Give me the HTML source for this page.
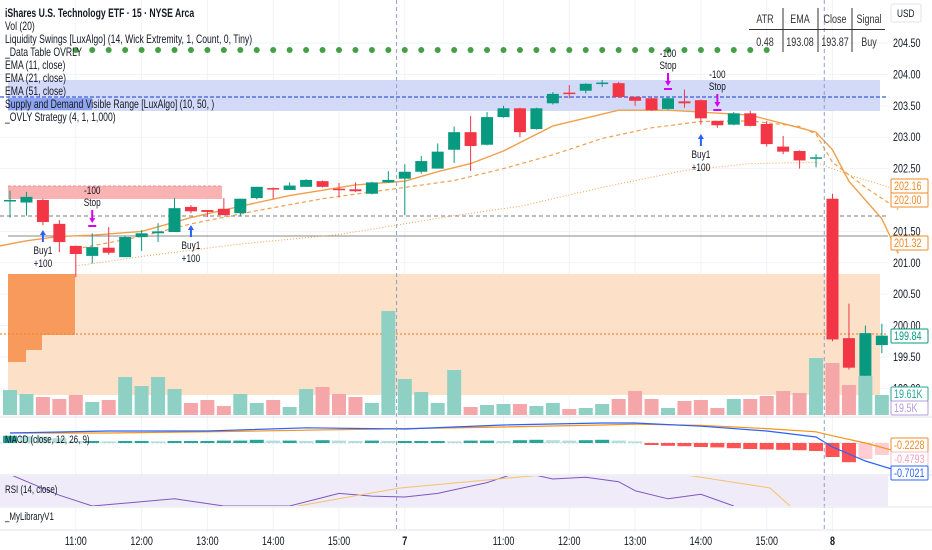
<!DOCTYPE html>
<html><head><meta charset="utf-8">
<style>
body{margin:0;background:#fff;font-family:"Liberation Sans",sans-serif;}
#wrap{position:relative;width:932px;height:550px;overflow:hidden;background:#fff}
svg{position:absolute;left:0;top:0}
.leg{position:absolute;left:5px;font-size:12px;color:#131722;white-space:nowrap;transform:scaleX(0.72);transform-origin:0 0}
</style></head>
<body>
<div id="wrap">
<svg id="c" width="932" height="550"></svg>
<div class="leg" style="top:6px;font-weight:bold">iShares U.S. Technology ETF · 15 · NYSE Arca</div>
<div class="leg" style="top:19px">Vol (20)</div>
<div class="leg" style="top:32px">Liquidity Swings [LuxAlgo] (14, Wick Extremity, 1, Count, 0, Tiny)</div>
<div class="leg" style="top:45px">_Data Table OVRLY</div>
<div class="leg" style="top:58px">EMA (11, close)</div>
<div class="leg" style="top:71px">EMA (21, close)</div>
<div class="leg" style="top:84px">EMA (51, close)</div>
<div class="leg" style="top:97px">Supply and Demand Visible Range [LuxAlgo] (10, 50, )</div>
<div class="leg" style="top:110px">_OVLY Strategy (4, 1, 1,000)</div>
<div class="leg" style="top:434px;font-size:11px">MACD (close, 12, 26, 9)</div>
<div class="leg" style="top:484px;font-size:11px">RSI (14, close)</div>
<div class="leg" style="top:511px;font-size:11px">_MyLibraryV1</div>
</div>
<script>
const opens=[201.99,201.96,202.0,201.62,201.27,201.11,201.24,201.09,201.41,201.47,201.49,201.89,201.84,201.86,201.79,202.03,202.19,202.16,202.21,202.30,202.18,202.17,202.1,202.28,202.34,202.45,202.5,202.8,203.08,202.88,203.32,203.46,203.13,203.54,203.71,203.74,203.85,203.86,203.64,203.62,203.45,203.57,203.59,203.26,203.2,203.38,203.21,202.85,202.78,202.66,202.02,199.8,199.2,199.69];
const closes=[202.0,202.05,201.65,201.33,201.14,201.25,201.16,201.41,201.47,201.50,201.87,201.82,201.81,201.76,202.02,202.21,202.17,202.23,202.32,202.21,202.17,202.14,202.28,202.32,202.45,202.62,202.77,203.08,202.86,203.32,203.46,203.08,203.46,203.69,203.7,203.85,203.87,203.64,203.58,203.43,203.62,203.54,203.3,203.19,203.38,203.18,202.89,202.77,202.63,202.68,199.78,199.33,199.88,199.84];
const highs=[202.15,202.13,202.02,201.68,201.27,201.47,201.57,201.43,201.52,201.63,202.03,201.92,201.84,202.03,202.02,202.21,202.2,202.28,202.33,202.31,202.27,202.28,202.29,202.46,202.57,202.7,202.9,203.17,203.34,203.4,203.5,203.47,203.47,203.72,203.83,203.86,203.91,203.88,203.65,203.63,203.63,203.76,203.6,203.26,203.4,203.42,203.26,203.02,202.79,202.73,202.1,200.35,200.0,200.03];
const lows=[201.72,201.75,201.6,201.17,200.77,200.99,201.13,201.09,201.19,201.33,201.49,201.79,201.73,201.76,201.74,202.01,202.02,202.16,202.21,202.2,202.04,202.13,202.09,202.27,201.76,202.42,202.5,202.59,202.46,202.87,203.31,203.0,203.12,203.52,203.62,203.7,203.8,203.63,203.5,203.42,203.44,203.47,203.2,203.15,203.19,203.17,202.85,202.73,202.5,202.52,199.75,199.3,199.2,199.56];
const volumes=[25,21,18,16,20,13,15,38,29,38,26,12,15,9,21,12,15,8,26,28,21,18,12,104,36,23,12,45,8,10,11,11,9,12,6,7,11,16,24,16,7,14,15,7,16,16,19,24,22,57,52,30,39,20];
const emaFastIdx=[-1,1,3,5,8,11,14,17,21,24,26,28,30,33,37,40,42,45,48,49,50,51,53,54];
const emaFast=[201.25,201.35,201.42,201.44,201.50,201.72,201.90,202.07,202.24,202.3,202.45,202.58,202.78,203.18,203.43,203.43,203.4,203.35,203.15,203.08,202.8,202.3,201.7,201.15];
const emaMidIdx=[4,8,11,15,19,24,27,30,33,36,39,42,45,48,49,50,52,54];
const emaMid=[201.22,201.42,201.62,201.83,202.02,202.2,202.31,202.5,202.72,202.98,203.15,203.25,203.26,203.17,203.05,202.6,202.2,201.85];
const emaSlowIdx=[4,8,14,20,27,31,36,41,45,49,51,54];
const emaSlow=[200.95,201.1,201.3,201.45,201.75,201.9,202.2,202.47,202.58,202.6,202.4,202.16];
const macdIdx=[0,6,12,18,24,30,36,38,42,46,49,50,52,54];
const macdLine=[0.25,0.3,0.3,0.38,0.35,0.45,0.5,0.5,0.42,0.3,0.15,-0.1,-0.45,-0.70];
const signalLine=[0.25,0.25,0.28,0.32,0.36,0.4,0.45,0.47,0.44,0.36,0.28,0.18,0.0,-0.22];
const macdHist=[0.18,0.17,0.16,0.12,0.05,0.05,0.04,0.05,0.05,0.04,0.05,0.05,0.05,0.06,0.06,0.08,0.06,0.06,0.05,0.07,0.06,0.05,0.06,0.05,0.05,0.05,0.05,0.04,0.06,0.06,0.05,0.07,0.08,0.07,0.06,0.07,0.08,0.06,0.04,-0.05,-0.07,-0.08,-0.1,-0.11,-0.13,-0.15,-0.16,-0.17,-0.18,-0.2,-0.35,-0.48,-0.4,-0.3];
const rsiIdx=[0,3,5,10,13,17,20,22,24,26,29,31,33,35,37,38,40,42,44];
const rsiVals=[65,42,30,38,30,30,44,41,40,44,56,68,60,62,57,47,38,43,30];
const priceTicks=[204.5,204.0,203.5,203.0,202.5,201.5,201.0,200.5,200.0,199.5,199.0];
const timeLabels=["11:00","12:00","13:00","14:00","15:00","7","11:00","12:00","13:00","14:00","15:00","8"];
const timeIdx=[4,8,12,16,20,24,30,34,38,42,46,50];

const NS="http://www.w3.org/2000/svg";
const svg=document.getElementById('c');
const xB=i=>10+i*16.45;
const yP=p=>43+(204.5-p)*62.8;
const yV=v=>415-v*1.0;
const yM=m=>443-m*40;
const yR=r=>506-(r-30)*0.9;
function el(t,a,parent){const e=document.createElementNS(NS,t);for(const k in a)e.setAttribute(k,a[k]);(parent||svg).appendChild(e);return e;}
function txt(x,y,s,a){const e=el('text',Object.assign({x:0,y:0,transform:`translate(${x},${y}) scale(0.75,1)`,'font-size':12,'font-family':'Liberation Sans, sans-serif',fill:'#131722'},a||{}));e.textContent=s;return e;}

timeIdx.forEach(i=>{const g=el('line',{x1:xB(i),x2:xB(i),y1:0,y2:532,stroke:'#f0f3fa'});

});
priceTicks.forEach(p=>{const g=el('line',{x1:0,x2:888,y1:yP(p),y2:yP(p),stroke:'#f0f3fa'});

});

let z=el('rect',{x:8,y:274,width:872,height:121,fill:'#fde0c8'});


z=el('path',{d:'M8 274H75V335H42V350H26V362H8Z',fill:'#f89a5c'});


z=el('rect',{x:8,y:80,width:872,height:31,fill:'#d3daf8'});


z=el('rect',{x:8,y:98,width:84,height:12,fill:'#8fa4ee'});


z=el('line',{x1:0,x2:888,y1:97,y2:97,stroke:'#3b5bdb','stroke-dasharray':'4 2','stroke-width':1.2});


z=el('rect',{x:8,y:186,width:214,height:13,fill:'#f9b3b3'});


z=el('line',{x1:8,x2:222,y1:186,y2:186,stroke:'#f28b8b','stroke-dasharray':'3 2'});


z=el('line',{x1:0,x2:888,y1:216,y2:216,stroke:'#787b86','stroke-dasharray':'4 3'});


z=el('line',{x1:8,x2:888,y1:236,y2:236,stroke:'#888'});


z=el('line',{x1:0,x2:888,y1:334,y2:334,stroke:'#f08a3c','stroke-dasharray':'2 2','stroke-width':1.2});



z=el('rect',{x:0,y:476,width:888,height:30,fill:'#efebf8'});



for(let i=4;i<=46;i++){const d=el('circle',{cx:xB(i),cy:50,r:3,fill:'#43a047'});

}

volumes.forEach((v,i)=>{const up=closes[i]>=opens[i];const r=el('rect',{x:xB(i)-7,y:yV(v),width:14,height:415-yV(v),fill:up?'#8fd0c5':'#f5a6a9'});

});

function line(idx,vals,st,name){const d=idx.map((i,k)=>(k?'L':'M')+xB(i).toFixed(1)+' '+yP(vals[k]).toFixed(1)).join('');const p=el('path',Object.assign({d:d,fill:'none',stroke:'#f0a04b'},st));

}
line(emaSlowIdx,emaSlow,{'stroke-dasharray':'1 2','stroke-width':1},'ema-51-line');
line(emaMidIdx,emaMid,{'stroke-dasharray':'4 3','stroke-width':1.2},'ema-21-line');
line(emaFastIdx,emaFast,{'stroke-width':1.4},'ema-11-line');

opens.forEach((o,i)=>{const c=closes[i],up=c>=o,col=up?'#089981':'#f23645';const x=xB(i);
const w=el('line',{x1:x,x2:x,y1:yP(highs[i]),y2:yP(lows[i]),stroke:col});


const t=Math.min(yP(o),yP(c)),h=Math.max(1.5,Math.abs(yP(o)-yP(c)));
const b=el('rect',{x:x-6,y:t,width:12,height:h,fill:col});

});

const mz=el('line',{x1:0,x2:888,y1:yM(0),y2:yM(0),stroke:'#d1d4dc','stroke-dasharray':'2 2'});


macdHist.forEach((h,i)=>{const prev=i?macdHist[i-1]:h;let col;if(h>=0)col=h>=prev?'#26a69a':'#b2dfdb';else col=h<=prev?'#ff5252':'#ffcdd2';
const r=el('rect',{x:xB(i)-7,y:Math.min(yM(h),yM(0)),width:14,height:Math.max(1,Math.abs(yM(h)-yM(0))),fill:col});

});
function mline(vals,col,name){const d=macdIdx.map((i,k)=>(k?'L':'M')+xB(i).toFixed(1)+' '+yM(vals[k]).toFixed(1)).join('');const p=el('path',{d:d,fill:'none',stroke:col,'stroke-width':1.2});

}
mline(signalLine,'#f7931a','macd-signal-line');
mline(macdLine,'#2962ff','macd-line');

const clip=el('clipPath',{id:'rc'});
el('rect',{x:0,y:476,width:888,height:30},clip);
let rd=rsiIdx.map((i,k)=>(k?'L':'M')+xB(i).toFixed(1)+' '+yR(rsiVals[k]).toFixed(1)).join('');
let rp=el('path',{d:rd,fill:'none',stroke:'#7e57c2','stroke-width':1,'clip-path':'url(#rc)'});


rp=el('path',{d:'M298 506L400 488L520 477L600 470L680 474L770 488L790 506',fill:'none',stroke:'#f5c26b','stroke-width':1,'clip-path':'url(#rc)'});



[23.5,49.5].forEach(i=>{const l=el('line',{x1:xB(i),x2:xB(i),y1:0,y2:532,stroke:'#8fa0c8','stroke-dasharray':'4 3'});

});

[417,475,507,530].forEach(y=>{const l=el('line',{x1:0,x2:932,y1:y,y2:y,stroke:'#e0e3eb'});

});

function buy(i,y){const x=xB(i);const a=el('path',{d:`M${x} ${y}L${x-3} ${y+5}H${x-1}V${y+12}H${x+1}V${y+5}H${x+3}Z`,fill:'#2962ff'});


const t1=txt(x,y+24,'Buy1',{'text-anchor':'middle','font-size':11});
const t2=txt(x,y+37,'+100',{'text-anchor':'middle','font-size':11});}
buy(2,230);buy(11,225);buy(42,134);
function stop(i,y){const x=xB(i);const t1=txt(x,y,'-100',{'text-anchor':'middle','font-size':11});
const t2=txt(x,y+12,'Stop',{'text-anchor':'middle','font-size':11});
const a=el('path',{d:`M${x-1} ${y+16}H${x+1}V${y+24}H${x+3}L${x} ${y+29}L${x-3} ${y+24}H${x-1}ZM${x-4} ${y+31}H${x+4}V${y+33}H${x-4}Z`,fill:'#d500f9'});

}
stop(5,194);stop(40,57);stop(43,78);

const tb=[['ATR','0.48',765],['EMA','193.08',800],['Close','193.87',835],['Signal','Buy',869]];
tb.forEach(r=>{const a=txt(r[2],23,r[0],{'text-anchor':'middle','fill':'#333'});
const b=txt(r[2],46,r[1],{'text-anchor':'middle','fill':'#333'});});
let tl=el('line',{x1:749,x2:885,y1:29.5,y2:29.5,stroke:'#333'});
[783,818,852].forEach(x=>{const l=el('line',{x1:x,x2:x,y1:8,y2:52,stroke:'#333'});});

priceTicks.forEach(p=>{const t=txt(893,yP(p)+4,p.toFixed(2),{'font-size':12});});
let u=el('rect',{x:891,y:4,width:30,height:18,fill:'#fff',stroke:'#e0e3eb',rx:2});
u=txt(897,17,'USD',{'font-size':11});
function tag(y,s,col,fill){const r=el('rect',{x:891,y:y-7,width:37,height:14,fill:'#fff',stroke:col,rx:1});
const t=txt(894,y+4,s,{'font-size':12,fill:fill||col});}
tag(186,'202.16','#f08a24');tag(200,'202.00','#f08a24');tag(243,'201.32','#f08a24');tag(336,'199.84','#089981');
tag(394,'19.61K','#26a69a');tag(408,'19.5K','#b39ddb');
tag(445,'-0.2228','#f08a24');tag(459,'-0.4793','#f8bbd0','#f4a0b8');tag(473,'-0.7021','#2962ff');

timeLabels.forEach((s,k)=>{const t=txt(xB(timeIdx[k]),545,s,{'text-anchor':'middle','font-size':12,'font-weight':(s==='7'||s==='8')?'bold':'normal'});

});
</script>
</body></html>
